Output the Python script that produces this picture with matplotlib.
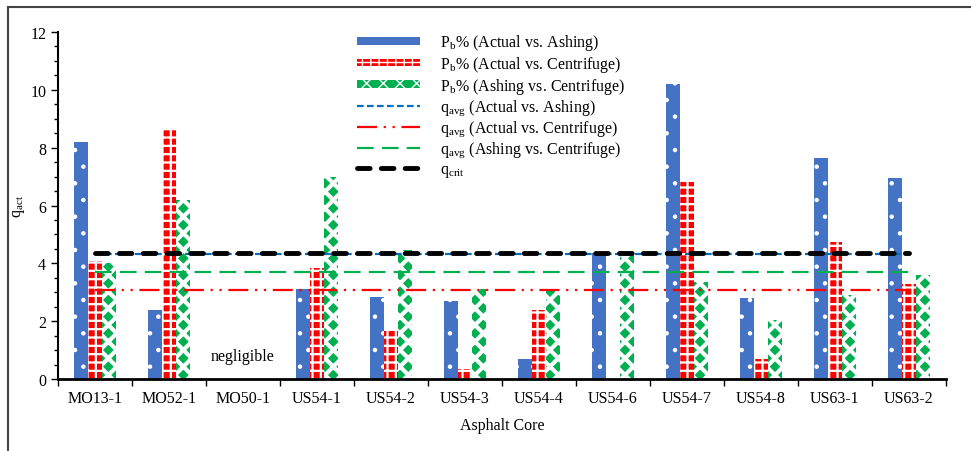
import numpy as np
import matplotlib.pyplot as plt
from matplotlib.lines import Line2D

plt.rcParams['font.family'] = ['Liberation Serif', 'DejaVu Serif']
plt.rcParams['mathtext.fontset'] = 'custom'
plt.rcParams['mathtext.rm'] = 'Liberation Serif'
plt.rcParams['mathtext.it'] = 'Liberation Serif'

# data
cores = ['MO13-1', 'MO52-1', 'MO50-1', 'US54-1', 'US54-2', 'US54-3',
         'US54-4', 'US54-6', 'US54-7', 'US54-8', 'US63-1', 'US63-2']
act_ash = [8.2, 2.4, 0, 3.1, 2.85, 2.7, 0.7, 4.35, 10.2, 2.8, 7.65, 6.95]
act_cen = [4.1, 8.6, 0, 3.85, 1.65, 0.35, 2.4, 0, 6.8, 0.7, 4.75, 3.3]
ash_cen = [4.0, 6.2, 0, 7.0, 4.45, 3.1, 3.1, 4.3, 3.35, 2.05, 2.9, 3.6]

q_avg_act_ash = 4.33
q_avg_act_cen = 3.07
q_avg_ash_cen = 3.7
q_crit = 4.35

blue = '#4472C4'
red = '#FF0000'
green = '#00B050'

fig = plt.figure(figsize=(9.71, 4.52), dpi=100)
ax = fig.add_axes([0.0597, 0.159, 0.9145, 0.768])

x = np.arange(len(cores))
w = 0.19
with plt.rc_context({'hatch.linewidth': 0.8}):
    b1 = ax.bar(x - w, act_ash, w, color=blue, edgecolor='white', linewidth=0,
                hatch='.', label=r'P$_\mathrm{b}$% (Actual vs. Ashing)')
with plt.rc_context({'hatch.linewidth': 1.6}):
    b2 = ax.bar(x, act_cen, w, color=red, edgecolor='white', linewidth=0,
                hatch='++', label=r'P$_\mathrm{b}$% (Actual vs. Centrifuge)')
with plt.rc_context({'hatch.linewidth': 3.0}):
    b3 = ax.bar(x + w, ash_cen, w, color=green, edgecolor='white', linewidth=0,
                hatch='xx', label=r'P$_\mathrm{b}$% (Ashing vs. Centrifuge)')

xs = [x[0], x[-1]]
l1, = ax.plot(xs, [q_avg_act_ash] * 2, color='#0070C0', lw=1.6, dashes=(3, 1.5),
              label=r'q$_\mathrm{avg}$ (Actual vs. Ashing)')
l2, = ax.plot(xs, [q_avg_act_cen] * 2, color=red, lw=1.6, dashes=(9, 3, 1, 3, 1, 3),
              label=r'q$_\mathrm{avg}$ (Actual vs. Centrifuge)')
l3, = ax.plot(xs, [q_avg_ash_cen] * 2, color=green, lw=1.6, dashes=(7.5, 3.7),
              label=r'q$_\mathrm{avg}$ (Ashing vs. Centrifuge)')
l4, = ax.plot(xs, [q_crit] * 2, color='black', lw=3.5, dashes=(2.6, 2.3),
              solid_capstyle='round', dash_capstyle='round',
              label=r'q$_\mathrm{crit}$')

ax.text(2, 0.8, 'negligible', ha='center', va='center', fontsize=11.5)

ax.set_xlim(-0.5, len(cores) - 0.5)
ax.set_ylim(0, 12)
ax.set_xticks(x)
ax.set_xticklabels(cores, fontsize=11.5)
ax.set_xticks(np.arange(-0.5, len(cores)), minor=True)
ax.tick_params(axis='x', which='major', length=0, pad=8)
ax.tick_params(axis='x', which='minor', length=5, width=1, direction='out')
ax.set_yticks(np.arange(0, 13, 2))
ax.set_yticks(np.arange(0, 12.01, 0.5), minor=True)
ax.tick_params(axis='y', which='major', length=5, width=1, labelsize=11.5)
ax.tick_params(axis='y', which='minor', length=3, width=1)
for s in ['top', 'right']:
    ax.spines[s].set_visible(False)
ax.spines['left'].set_linewidth(1.5)
ax.spines['bottom'].set_linewidth(2)

ax.set_xlabel('Asphalt Core', fontsize=11.5, labelpad=8)
ax.set_ylabel(r'q$_\mathrm{act}$', fontsize=11.5, labelpad=2)

ax.legend(handles=[b1, b2, b3, l1, l2, l3, l4],
          loc='upper left', bbox_to_anchor=(0.321, 1.04), frameon=False,
          fontsize=11.5, handlelength=3.9, handleheight=0.35, labelspacing=0.1,
          handletextpad=1.3)

# figure border
fig.add_artist(Line2D([8 / 971, 1], [1 - 8 / 452, 1 - 8 / 452], color='#444444', lw=1.5))
fig.add_artist(Line2D([8 / 971, 8 / 971], [0, 1 - 8 / 452], color='#444444', lw=1.5))

fig.savefig('out.png', dpi=100)
